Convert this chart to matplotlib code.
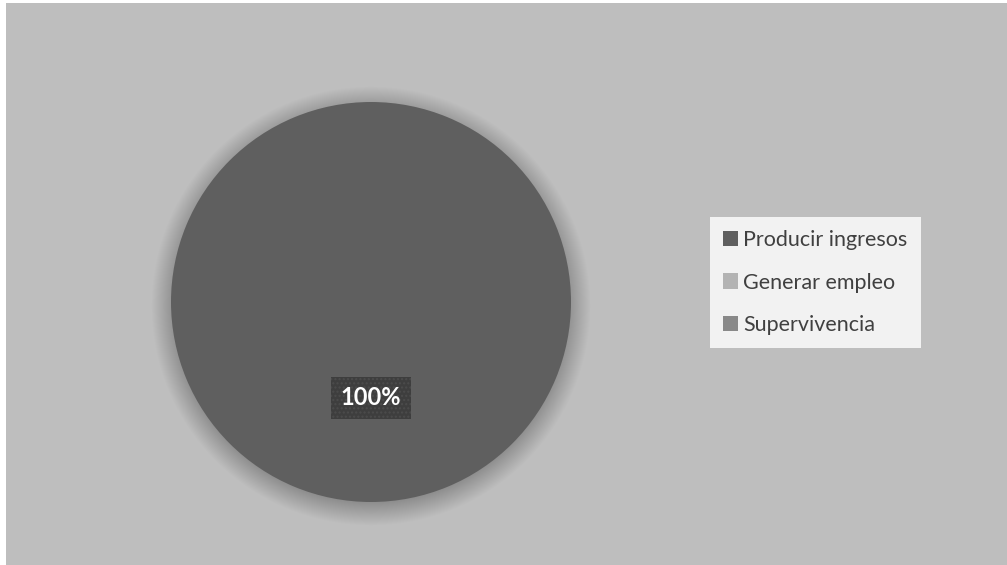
import matplotlib.pyplot as plt
from matplotlib.patches import Patch, Circle

plt.rcParams['font.family'] = ['Lato', 'DejaVu Sans']

labels = ["Producir ingresos", "Generar empleo", "Supervivencia"]
values = [100, 0, 0]
colors = ["#5f5f5f", "#b3b3b3", "#898989"]

fig = plt.figure(figsize=(10.07, 5.65), dpi=100, facecolor="white")

# grey chart area, with a thin white margin on the left and top
bg = fig.add_axes([6 / 1007, 0, 1 - 6 / 1007, 1 - 3 / 565], zorder=-1)
bg.set_facecolor("#bebebe")
bg.set_xticks([])
bg.set_yticks([])
for s in bg.spines.values():
    s.set_visible(False)

ax = fig.add_axes([171 / 1007, 63 / 565, 400 / 1007, 400 / 565], zorder=1)
ax.set_facecolor("none")

# soft drop shadow under the pie
for k in range(50):
    ax.add_patch(Circle((0, -0.02), 0.98 + k * 0.0024, facecolor="black",
                        edgecolor="none", alpha=0.005, zorder=0, clip_on=False))

wedges, texts, autotexts = ax.pie(
    values, colors=colors, startangle=90, counterclock=False,
    autopct=lambda p: f"{p:.0f}%" if p > 0 else "", pctdistance=0.48,
    wedgeprops=dict(linewidth=0, zorder=2),
    textprops=dict(color="white", fontsize=17, fontweight="bold"),
)
for t in autotexts:
    if t.get_text():
        t.set_zorder(5)
        t.set_bbox(dict(boxstyle="square,pad=0.4", facecolor="#3e3e3e",
                        edgecolor="#4c4c4c", linewidth=0, hatch="...."))
ax.set_xlim(-1, 1)
ax.set_ylim(-1, 1)
ax.set_aspect("equal")
ax.axis("off")

handles = [Patch(facecolor=c, edgecolor="none") for c in colors]
leg = fig.legend(handles, labels, loc="upper left",
                 bbox_to_anchor=(710 / 1007, 1 - 217 / 565),
                 frameon=True, fancybox=False, framealpha=1,
                 facecolor="#f2f2f2", edgecolor="none",
                 fontsize=15.5, labelcolor="#404040",
                 handlelength=0.7, handleheight=0.7, handletextpad=0.25,
                 labelspacing=1.05, borderpad=0.6, borderaxespad=0)

fig.savefig("out.png", dpi=100, facecolor=fig.get_facecolor())
